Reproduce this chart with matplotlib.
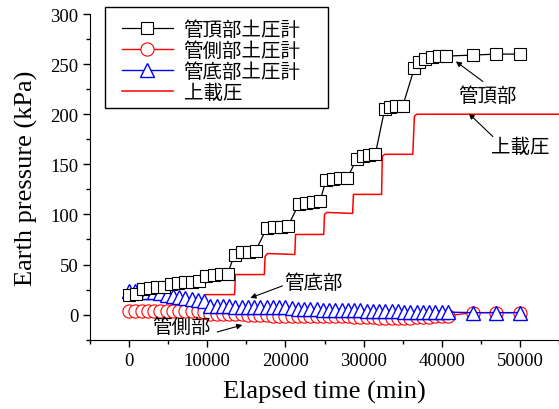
import matplotlib
matplotlib.use("Agg")
import matplotlib.pyplot as plt
from matplotlib.ticker import MultipleLocator
from matplotlib.font_manager import FontProperties
from matplotlib.patches import Rectangle

# 管頂部 (top of pipe)
top_time = [0, 900, 1800, 2700, 3600, 4500, 5400, 6300, 7200, 8100, 9000, 9900, 10800, 11700,
            12600, 13500, 14400, 15300, 16200, 17600, 18500, 19400, 20300, 21700, 22600, 23500,
            24400, 25200, 26100, 27000, 27900, 29100, 29900, 30700, 31500, 32700, 33400, 34200,
            35000, 36500, 37100, 37800, 38700, 39600, 40600, 44000, 47000, 50000]
top_value = [20, 21, 26, 27, 28, 28, 31, 32, 33, 33, 34, 39, 40, 41,
             41, 60, 63, 63, 64, 86, 87, 87, 88, 110, 111, 112,
             113, 134, 135, 136, 136, 155, 158, 159, 160, 205, 207, 208,
             208, 246, 252, 255, 257, 258, 258, 259, 260, 260]

# 管側部 / 管底部 share the same reading times
gauge_time = [0, 800, 1600, 2400, 3200, 4000, 4800, 5600, 6400, 7200, 8000, 8800, 9600,
              10400, 11200, 12000, 12800, 13600, 14400, 15200, 16000, 16800, 17600, 18400,
              19200, 20000, 20800, 21600, 22400, 23200, 24000, 24800, 25600, 26400, 27200,
              28000, 28800, 29600, 30400, 31200, 32000, 32800, 33600, 34400, 35200, 36000,
              36800, 37600, 38400, 39200, 40000, 40800, 44000, 47000, 50000]
side_value = [4, 4, 4, 4, 4, 4, 4, 3.5, 3.5, 3.5, 3.5, 3.5, 3,
              1, 1, 1, 1, 0.5, 0.5, 0, 0, -0.5, -0.5, -1,
              -1, -1, -1, -1, -1, -1, -1, -1, -1.5, -1.5, -1.5,
              -1.5, -2, -2, -2.5, -2.5, -3, -3, -3, -3, -3, -3,
              -2.5, -2, -2, -1.5, -1, -1, 2, 2, 2]
bottom_value = [24, 24, 23, 23, 23, 22, 20, 19, 18, 17, 16, 15, 14,
                9, 9, 9, 9, 8, 8, 8, 8, 8, 8, 8,
                8, 8, 7, 6, 6, 6, 6, 5, 5, 5, 5,
                5, 5, 5, 4, 4, 4, 4, 4, 4, 3, 3,
                3, 3, 3, 3, 3, 2.5, 2, 2, 2]

# 上載圧 (surcharge)
load_time = [0, 2000, 2100, 5300, 5400, 9600, 9700, 13500, 13600, 17300, 17400, 17700,
             21200, 21300, 24900, 25000, 25300, 28600, 28700, 32300, 32400, 32700, 36300,
             36500, 36800, 55000]
load_value = [0, 0, 7, 7, 11, 11, 20, 20, 40, 40, 58, 61,
              60, 80, 80, 100, 102, 101, 120, 120, 158, 160, 160,
              198, 200, 200]

legend_labels = ["管頂部土圧計", "管側部土圧計", "管底部土圧計", "上載圧"]

serif = "Liberation Serif"
cjk = FontProperties(family=["Noto Sans CJK JP", "DejaVu Sans"], size=14)
W, H = 559, 410

fig = plt.figure(figsize=(5.59, 4.10), dpi=100)
ax = fig.add_axes([90 / W, 1 - 340.7 / H, 1 - 90 / W, (340.7 - 15) / H])

ax.plot(load_time, load_value, color="red", lw=1.1, zorder=2, label=legend_labels[3])
ax.plot(gauge_time, side_value, color="red", lw=1.0, marker="o", ms=9.5, mfc="white",
        mec="red", mew=0.8, zorder=3, label=legend_labels[1])
ax.plot(gauge_time, bottom_value, color="blue", lw=1.0, marker="^", ms=10.5, mfc="white",
        mec="blue", mew=1.0, zorder=4, label=legend_labels[2])
ax.plot(top_time, top_value, color="black", lw=0.9, marker="s", ms=9, mfc="white",
        mec="black", mew=0.8, zorder=5, label=legend_labels[0])

ax.set_xlim(-5000, 55000)
ax.set_ylim(-25, 300)
ax.xaxis.set_major_locator(MultipleLocator(10000))
ax.xaxis.set_minor_locator(MultipleLocator(5000))
ax.yaxis.set_major_locator(MultipleLocator(50))
ax.yaxis.set_minor_locator(MultipleLocator(25))
ax.tick_params(which="major", direction="out", length=5, width=1, labelsize=13.5)
ax.tick_params(which="minor", direction="out", length=3, width=1)
for lab in ax.get_xticklabels() + ax.get_yticklabels():
    lab.set_fontfamily(serif)
ax.spines["top"].set_visible(False)
ax.spines["right"].set_visible(False)

ax.set_xlabel("Elapsed time (min)", fontfamily=serif, fontsize=19, labelpad=8)
ax.set_ylabel("Earth pressure (kPa)", fontfamily=serif, fontsize=19, labelpad=9)

# legend box drawn by hand so it can be as wide as the original one
fig.add_artist(Rectangle((105 / W, 1 - 109 / H), 223 / W, 101 / H, transform=fig.transFigure,
                         fill=False, edgecolor="black", lw=1.0, zorder=10))
h, l = ax.get_legend_handles_labels()
order = [3, 1, 2, 0]
leg = ax.legend([h[i] for i in order], [l[i] for i in order], loc="upper left",
                bbox_to_anchor=(122 / W, 1 - 20 / H), bbox_transform=fig.transFigure,
                prop=cjk, frameon=False, handlelength=2.6, handletextpad=0.57,
                labelspacing=0.0, borderpad=0, borderaxespad=0)

arrow = dict(arrowstyle="-|>", color="black", lw=0.8, mutation_scale=8, shrinkA=0, shrinkB=0)
ax.annotate("", xy=(41800, 252.7), xytext=(45260, 232.7), arrowprops=arrow)
ax.text(45900, 218.7, "管頂部", fontproperties=cjk, ha="center", va="center")
ax.annotate("", xy=(43460, 200.7), xytext=(46540, 177.7), arrowprops=arrow)
ax.text(50000, 167.7, "上載圧", fontproperties=cjk, ha="center", va="center")
ax.annotate("", xy=(15510, 16.7), xytext=(19620, 28.7), arrowprops=arrow)
ax.text(23590, 31.7, "管底部", fontproperties=cjk, ha="center", va="center")
ax.annotate("", xy=(14490, -10.3), xytext=(11280, -17.3), arrowprops=arrow)
ax.text(6670, -12.3, "管側部", fontproperties=cjk, ha="center", va="center")

fig.savefig("out.png", dpi=100)
